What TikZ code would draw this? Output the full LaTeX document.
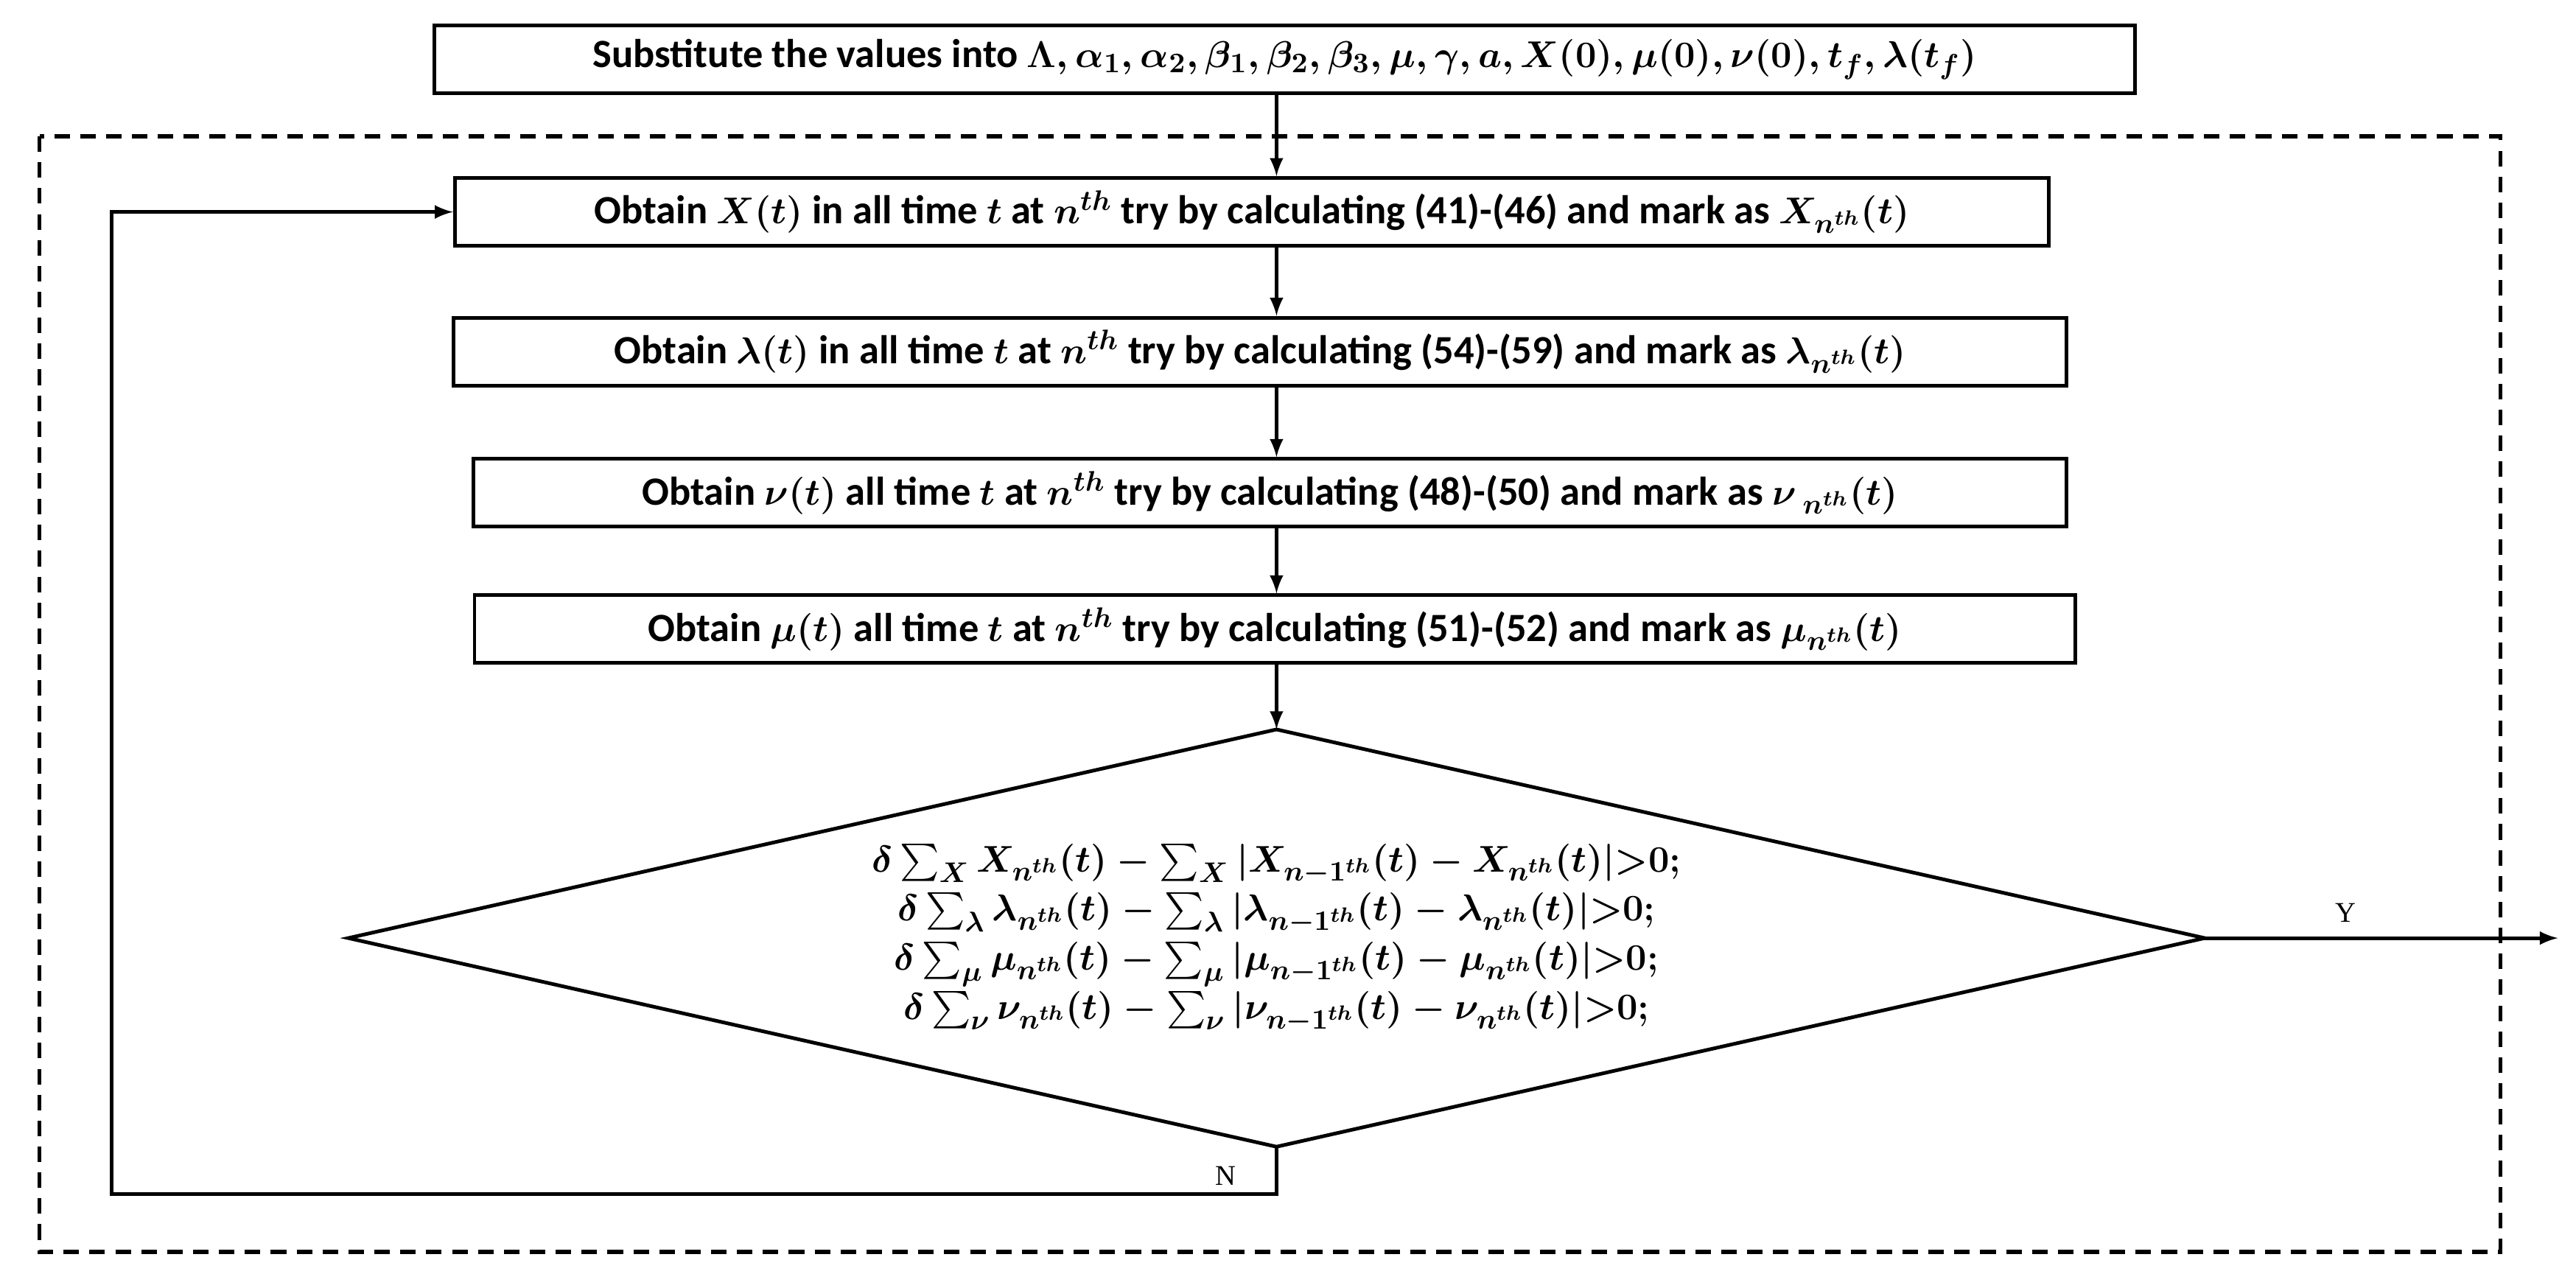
\documentclass[tikz,border=0pt]{standalone}
\usepackage{amsmath}
\usepackage{fontspec}
\setmainfont{Carlito}
\newfontfamily\ynfont{Liberation Serif}
\usetikzlibrary{arrows, positioning, calc}

\begin{document}
\begin{tikzpicture}[x=0.0223cm, y=-0.0223cm,
    stepbox/.style={draw, line width=1.4pt, minimum height=0.92cm, inner sep=0pt, font=\fontsize{15.5}{18}\selectfont\bfseries, execute at begin node=\boldmath},
    flow/.style={-latex, line width=1.4pt},
    yn/.style={font=\fontsize{11}{13}\ynfont}]
    \useasboundingbox (0,0) rectangle (1568,784);

    % Outer loop frame
    \draw[dash pattern=on 6pt off 4pt, line width=1.6pt] (24,83) rectangle (1522,762);

    % Steps
    \node[stepbox, minimum width=23.08cm] (init) at (782,36) {Substitute the values into $\Lambda, \alpha_1, \alpha_2, \beta_1, \beta_2, \beta_3, \mu, \gamma, a, X(0), \mu(0), \nu(0), t_f, \lambda(t_f)$};
    \node[stepbox, minimum width=21.63cm] (stx) at (762,129) {Obtain $X(t)$ in all time $t$ at $n^{th}$ try by calculating (41)-(46) and mark as $X_{n^{th}}(t)$};
    \node[stepbox, minimum width=21.88cm] (stl) at (767,214) {Obtain $\lambda(t)$ in all time $t$ at $n^{th}$ try by calculating (54)-(59) and mark as $\lambda_{n^{th}}(t)$};
    \node[stepbox, minimum width=21.61cm] (stv) at (773,300) {Obtain $\nu(t)$ all time $t$ at $n^{th}$ try by calculating (48)-(50) and mark as $\nu_{\ n^{th}}(t)$};
    \node[stepbox, minimum width=21.72cm] (stm) at (776,383) {Obtain $\mu(t)$ all time $t$ at $n^{th}$ try by calculating (51)-(52) and mark as $\mu_{n^{th}}(t)$};

    % Decision
    \coordinate (dt) at (777,444);
    \coordinate (dr) at (1342,571);
    \coordinate (db) at (777,698);
    \coordinate (dl) at (212,571);
    \draw[line width=1.4pt] (dt) -- (dr) -- (db) -- (dl) -- cycle;
    \node[align=center, font=\fontsize{15.5}{19}\selectfont\bfseries, execute at begin node=\boldmath] (cond) at (777,571) {%
        $\delta\sum_X X_{n^{th}}(t)-\sum_X|X_{n-1^{th}}(t)-X_{n^{th}}(t)|{>}0;$\\
        $\delta\sum_\lambda \lambda_{n^{th}}(t)-\sum_\lambda|\lambda_{n-1^{th}}(t)-\lambda_{n^{th}}(t)|{>}0;$\\
        $\delta\sum_\mu \mu_{n^{th}}(t)-\sum_\mu|\mu_{n-1^{th}}(t)-\mu_{n^{th}}(t)|{>}0;$\\
        $\delta\sum_\nu \nu_{n^{th}}(t)-\sum_\nu|\nu_{n-1^{th}}(t)-\nu_{n^{th}}(t)|{>}0;$};

    % Arrows
    \draw[flow] (init.south -| dt) -- (stx.north -| dt);
    \draw[flow] (stx.south -| dt) -- (stl.north -| dt);
    \draw[flow] (stl.south -| dt) -- (stv.north -| dt);
    \draw[flow] (stv.south -| dt) -- (stm.north -| dt);
    \draw[flow] (stm.south -| dt) -- (dt);
    \coordinate (yend) at (1557,571);
    \draw[flow] (dr) -- (yend) node[yn, pos=0.4, above=2pt] {Y};
    \coordinate (nc) at (777,727);
    \draw[flow] (db) -- (nc) -- (68,727) -- (68,129) -- (stx.west);
    \node[yn, left=12pt of nc, anchor=south east] {N};
\end{tikzpicture}
\end{document}
